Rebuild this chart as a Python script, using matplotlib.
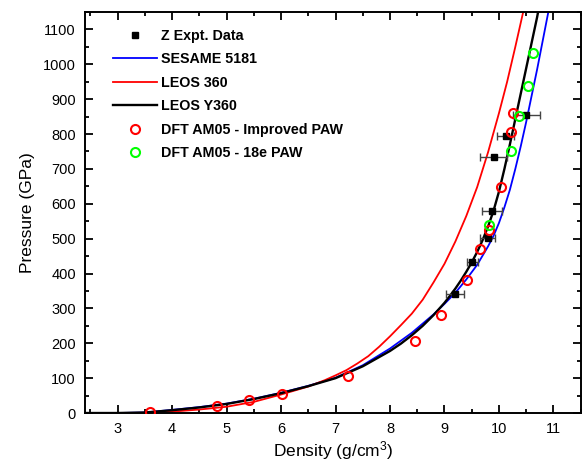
import matplotlib
matplotlib.use("Agg")
import matplotlib.pyplot as plt
from matplotlib.ticker import MultipleLocator

plt.rcParams['font.family'] = ['Liberation Sans', 'DejaVu Sans']
plt.rcParams['mathtext.fontset'] = 'custom'
plt.rcParams['mathtext.rm'] = 'Liberation Sans'
plt.rcParams['mathtext.default'] = 'regular'

# SESAME 5181 (blue)
sesame_x = [2.4, 3.0, 3.5, 4.0, 4.5, 5.0, 5.5, 6.0, 6.5, 7.0, 7.5, 8.0, 8.4, 8.8,
            9.0, 9.2, 9.4, 9.6, 9.8, 9.9, 10.0, 10.1, 10.2, 10.3, 10.4, 10.5,
            10.6, 10.7, 10.8, 10.9, 10.92]
sesame_y = [0, 0, 1.5, 9, 17, 27, 41, 58, 78, 101, 137, 185, 230, 283,
            313, 345, 383, 425, 478, 508, 545, 590, 640, 700, 765, 835,
            910, 985, 1065, 1145, 1160]

# LEOS 360 (red)
leos_x = [2.4, 3.0, 3.5, 4.0, 4.5, 5.0, 5.5, 6.0, 6.5, 6.8, 7.0, 7.2, 7.4, 7.6,
          7.8, 8.0, 8.2, 8.4, 8.6, 8.8, 9.0, 9.2, 9.4, 9.6, 9.8, 10.0,
          10.15, 10.3, 10.43, 10.46]
leos_y = [0, 0, 0.5, 4, 10, 18, 32, 53, 76, 94, 108, 123, 142, 163,
          190, 220, 252, 285, 325, 375, 428, 492, 565, 648, 748, 860,
          950, 1050, 1140, 1160]

# LEOS Y360 (black)
leosy_x = [2.4, 3.0, 3.5, 4.0, 4.5, 5.0, 5.5, 6.0, 6.5, 7.0, 7.5, 8.0, 8.2, 8.4,
           8.6, 8.8, 9.0, 9.1, 9.2, 9.3, 9.4, 9.5, 9.6, 9.7, 9.8, 9.9, 10.0,
           10.1, 10.2, 10.3, 10.4, 10.5, 10.6, 10.7, 10.73]
leosy_y = [0, 0, 1.5, 8, 16, 26, 40, 57, 77, 100, 134, 178, 199, 223,
           250, 281, 316, 336, 357, 380, 405, 432, 462, 496, 535, 580, 635,
           700, 770, 843, 916, 989, 1062, 1135, 1160]

# Z experimental data
z_x = [9.19, 9.51, 9.79, 9.87, 9.90, 10.12, 10.50]
z_y = [341, 432, 503, 580, 734, 794, 854]
z_xerr = [0.17, 0.10, 0.14, 0.19, 0.25, 0.16, 0.25]

# DFT AM05 - Improved PAW
dft_imp_x = [3.60, 4.82, 5.42, 6.02, 7.23, 8.45, 8.93, 9.42, 9.65, 9.82, 10.03, 10.22, 10.26]
dft_imp_y = [2, 21, 37, 55, 105, 206, 280, 382, 471, 525, 647, 805, 860]

# DFT AM05 - 18e PAW
dft_18_x = [9.81, 10.23, 10.37, 10.53, 10.63]
dft_18_y = [540, 750, 851, 938, 1032]

fig = plt.figure(figsize=(5.83, 4.66), dpi=100)
ax = fig.add_axes([0.1458, 0.1137, 0.8502, 0.8605])

ax.errorbar(z_x, z_y, xerr=z_xerr, fmt='none', ecolor='#444444', elinewidth=1.0,
            capsize=3, capthick=1.0, zorder=3)
hz, = ax.plot(z_x, z_y, 's', color='black', markersize=5, linestyle='none', zorder=4,
              label='Z Expt. Data')
hs, = ax.plot(sesame_x, sesame_y, color='#0000ff', lw=1.3, label='SESAME 5181', zorder=2)
hl, = ax.plot(leos_x, leos_y, color='#ff0000', lw=1.3, label='LEOS 360', zorder=2)
hy, = ax.plot(leosy_x, leosy_y, color='black', lw=1.7, label='LEOS Y360', zorder=2.5)
hd, = ax.plot(dft_imp_x, dft_imp_y, 'o', mfc='none', mec='#ff0000', mew=1.5, markersize=6.5,
              linestyle='none', label='DFT AM05 - Improved PAW', zorder=5)
hg, = ax.plot(dft_18_x, dft_18_y, 'o', mfc='none', mec='#00ff00', mew=1.5, markersize=6.5,
              linestyle='none', label='DFT AM05 - 18e PAW', zorder=5)

ax.set_xlim(2.4, 11.5)
ax.set_ylim(0, 1150)
ax.xaxis.set_major_locator(MultipleLocator(1))
ax.xaxis.set_minor_locator(MultipleLocator(0.5))
ax.yaxis.set_major_locator(MultipleLocator(100))
ax.yaxis.set_minor_locator(MultipleLocator(50))
ax.tick_params(which='both', direction='in', top=True, right=True, width=1.3,
               labelsize=10.5, pad=6.5)
ax.tick_params(which='major', length=6)
ax.tick_params(which='minor', length=3)
for s in ax.spines.values():
    s.set_linewidth(1.4)

ax.set_xlabel('Density (g/cm$^{3}$)', fontsize=12.5, labelpad=2)
ax.set_ylabel('Pressure (GPa)', fontsize=12.5, labelpad=6)

leg = ax.legend(handles=[hz, hs, hl, hy, hd, hg], loc='upper left', frameon=False,
                prop={'weight': 'bold', 'size': 10.3}, handlelength=3.1,
                handletextpad=0.3, labelspacing=0.66, borderaxespad=0.5,
                bbox_to_anchor=(0.03, 0.99))

fig.savefig('out.png', dpi=100)
